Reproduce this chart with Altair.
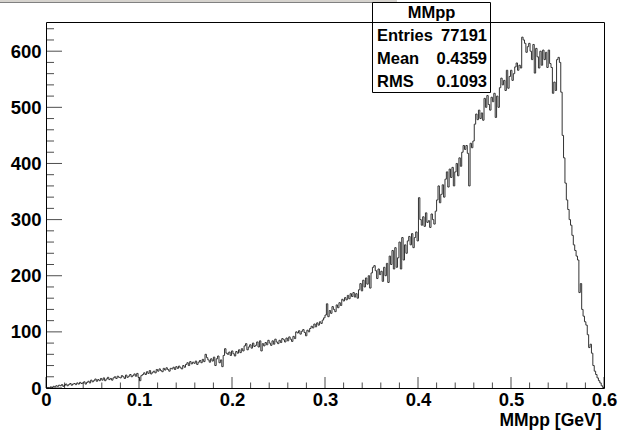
import altair as alt
import pandas as pd

# ---- histogram contents (400 bins, 0 - 0.6 GeV) ----
counts_a = [0, 1, 0, 2, 1, 3, 2, 4, 3, 5,
            4, 6, 3, 5, 7, 4, 6, 8, 5, 7,
            8, 6, 9, 7, 10, 8, 9, 11, 7, 10,
            12, 9, 14, 11, 13, 16, 12, 15, 13, 17,
            14, 18, 13, 16, 19, 15, 17, 14, 18, 20]
counts_b = [17, 21, 19, 18, 22, 20, 17, 23, 19, 21,
            24, 20, 22, 25, 21, 26, 19, 13, 22, 24,
            27, 24, 29, 26, 31, 25, 28, 30, 27, 33,
            30, 34, 31, 29, 35, 32, 36, 33, 30, 35,
            34, 37, 33, 38, 35, 39, 36, 34, 40, 37]
counts_c = [42, 45, 40, 47, 43, 46, 44, 48, 42, 46,
            49, 45, 51, 47, 60, 54, 50, 46, 52, 48,
            55, 40, 52, 57, 45, 50, 38, 58, 70, 62,
            60, 64, 58, 66, 61, 57, 65, 62, 68, 63,
            70, 66, 75, 79, 68, 73, 77, 71, 80, 74]
counts_d = [76, 82, 73, 84, 66, 79, 75, 81, 77, 85,
            80, 76, 84, 78, 87, 82, 79, 85, 81, 88,
            86, 82, 89, 84, 91, 87, 83, 92, 88, 100,
            98, 102, 96, 101, 104, 99, 93, 103, 100, 106,
            110, 107, 114, 109, 116, 112, 118, 115, 121, 125]
counts_e = [130, 150, 127, 138, 133, 145, 140, 136, 148, 143,
            152, 147, 158, 155, 161, 157, 165, 159, 168, 163,
            170, 162, 168, 160, 175, 186, 173, 192, 180, 196,
            185, 200, 178, 205, 215, 218, 209, 195, 212, 202,
            208, 190, 215, 200, 222, 188, 235, 220, 245, 212]
counts_f = [250, 215, 232, 260, 212, 268, 228, 255, 240, 262,
            270, 255, 275, 250, 268, 278, 262, 339, 300, 290,
            305, 288, 312, 295, 298, 286, 310, 300, 292, 315,
            335, 360, 330, 345, 362, 340, 372, 385, 358, 390,
            375, 393, 360, 385, 400, 378, 410, 395, 420, 432]
counts_g = [425, 432, 418, 360, 436, 428, 440, 470, 488, 478,
            495, 480, 490, 477, 516, 500, 521, 505, 495, 518,
            510, 525, 482, 520, 500, 535, 552, 540, 548, 530,
            566, 534, 555, 566, 548, 560, 572, 579, 566, 575,
            570, 625, 620, 614, 598, 608, 614, 600, 585, 612]
counts_h = [561, 605, 590, 570, 600, 575, 602, 585, 598, 571,
            602, 578, 571, 525, 545, 530, 585, 589, 580, 527,
            450, 410, 365, 335, 318, 300, 290, 272, 255, 245,
            235, 228, 170, 186, 140, 128, 118, 112, 95, 72,
            78, 62, 40, 30, 24, 18, 13, 9, 4, 1]

x_low, x_high = 0.0, 0.6
y_low, y_high = 0, 652

x_major = [0.0, 0.1, 0.2, 0.3, 0.4, 0.5, 0.6]
x_minor = [0.02, 0.04, 0.06, 0.08, 0.12, 0.14, 0.16, 0.18, 0.22, 0.24, 0.26, 0.28,
           0.32, 0.34, 0.36, 0.38, 0.42, 0.44, 0.46, 0.48, 0.52, 0.54, 0.56, 0.58]
y_major = [0, 100, 200, 300, 400, 500, 600]
y_minor = [20, 40, 60, 80, 120, 140, 160, 180, 220, 240, 260, 280, 320, 340, 360, 380,
           420, 440, 460, 480, 520, 540, 560, 580, 620, 640]

hist_title = "MMpp"
stat_names = ["Entries", "Mean", "RMS"]
stat_values = ["77191", "0.4359", "0.1093"]
x_title = "MMpp [GeV]"

counts = counts_a + counts_b + counts_c + counts_d + counts_e + counts_f + counts_g + counts_h
nbins = len(counts)
edges = [x_low + (x_high - x_low) * i / nbins for i in range(nbins + 1)]
hist = pd.DataFrame({"x": edges, "n": counts + [counts[-1]]})

FONT = "Liberation Sans"
W, H = 558, 366
LBL = 18.5
STAT = 16.5

xs = alt.Scale(domain=[x_low, x_high], nice=False, zero=False)
ys = alt.Scale(domain=[y_low, y_high], nice=False)

line = alt.Chart(hist).mark_line(interpolate="step-after", color="#333333", strokeWidth=1).encode(
    x=alt.X("x:Q", scale=xs,
            axis=alt.Axis(values=x_major, format="~g", ticks=False, domain=False, grid=False,
                          labelFont=FONT, labelFontSize=LBL, labelFontWeight="bold", labelColor="black",
                          labelPadding=2, labelFlush=False,
                          title=x_title, titleFont=FONT, titleFontSize=17.5, titleFontWeight="bold",
                          titleColor="black", titleAnchor="end", titleAlign="right",
                          titleX=W - 3, titleY=37, titleBaseline="alphabetic")),
    y=alt.Y("n:Q", scale=ys,
            axis=alt.Axis(values=y_major, ticks=False, domain=False, grid=False,
                          labelFont=FONT, labelFontSize=LBL, labelFontWeight="bold", labelColor="black",
                          labelPadding=5, labelFlush=False, title=None)),
)

def xticks(vals, length):
    return alt.Chart(pd.DataFrame({"v": vals})).mark_tick(
        orient="vertical", size=length, thickness=1, yOffset=-length / 2, color="black"
    ).encode(x=alt.X("v:Q", scale=xs), y=alt.Y(datum=0, scale=ys))

def yticks(vals, length):
    return alt.Chart(pd.DataFrame({"v": vals})).mark_tick(
        orient="horizontal", size=length, thickness=1, xOffset=length / 2, color="black"
    ).encode(y=alt.Y("v:Q", scale=ys), x=alt.X(datum=0, scale=xs))

one = pd.DataFrame({"k": [0]})

# window strip at the very top
strip = alt.Chart(one).mark_rect(fill="#d6d3ce").encode(
    x=alt.value(-46), x2=alt.value(351), y=alt.value(-22), y2=alt.value(-19))
strip_line = alt.Chart(one).mark_rule(color="#808080", strokeWidth=1).encode(
    x=alt.value(-46), x2=alt.value(351), y=alt.value(-19.5))

# statistics box
box = alt.Chart(one).mark_rect(fill="white", stroke="black", strokeWidth=1).encode(
    x=alt.value(326.5), x2=alt.value(444.5), y=alt.value(-19.5), y2=alt.value(70.5))
box_sep = alt.Chart(one).mark_rule(color="black", strokeWidth=1).encode(
    x=alt.value(326.5), x2=alt.value(444.5), y=alt.value(0.5))
box_title = alt.Chart(pd.DataFrame({"t": [hist_title]})).mark_text(
    font=FONT, fontSize=STAT, fontWeight="bold", color="black", align="center", baseline="middle"
).encode(x=alt.value(385.5), y=alt.value(-9.5), text="t:N")

row_y = [13.5, 36.5, 59.5]
stat_layers = []
for i in range(len(stat_names)):
    row = pd.DataFrame({"name": [stat_names[i]], "val": [stat_values[i]]})
    stat_layers.append(alt.Chart(row).mark_text(
        font=FONT, fontSize=STAT, fontWeight="bold", color="black", align="left", baseline="middle"
    ).encode(x=alt.value(331), y=alt.value(row_y[i]), text="name:N"))
    stat_layers.append(alt.Chart(row).mark_text(
        font=FONT, fontSize=STAT, fontWeight="bold", color="black", align="right", baseline="middle"
    ).encode(x=alt.value(441), y=alt.value(row_y[i]), text="val:N"))

chart = alt.layer(
    line,
    xticks(x_major, 11), xticks(x_minor, 5.5),
    yticks(y_major, 16), yticks(y_minor, 8),
    strip, strip_line,
    box, box_sep, box_title, *stat_layers,
).properties(
    width=W, height=H,
    autosize=alt.AutoSizeParams(type="none"),
    padding={"left": 46, "top": 22, "right": 17, "bottom": 42},
    background="white",
).configure_view(stroke="black", strokeWidth=1)

chart.save("out.html", embed_options={"renderer": "svg", "actions": False})
